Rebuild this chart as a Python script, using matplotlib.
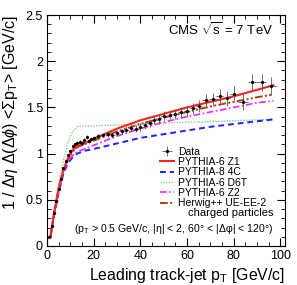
#!/usr/bin/env python3
"""
CMS underlying event: transverse charged pTsum density vs leading track-jet pT.
"""
import matplotlib
matplotlib.use("Agg")
import matplotlib.pyplot as plt
from matplotlib.ticker import FuncFormatter, MultipleLocator

plt.rcParams["font.family"] = ["Liberation Sans", "DejaVu Sans"]
plt.rcParams["mathtext.fontset"] = "custom"
plt.rcParams["mathtext.rm"] = "Liberation Sans"
plt.rcParams["mathtext.it"] = "Liberation Sans:italic"
plt.rcParams["mathtext.bf"] = "Liberation Sans:bold"

# data points
data_x = [1, 2, 3, 4, 5, 6, 7, 8, 9, 10, 11, 12, 13, 14, 15, 16, 17, 18, 19, 20,
          22, 24, 26, 28, 30, 32, 34, 36, 38, 40, 42, 44, 46, 48, 50,
          52.5, 55, 57.5, 60, 62.5, 65, 68, 71, 74, 77, 80, 84, 88, 92, 96]
data_y = [0.10, 0.22, 0.36, 0.49, 0.62, 0.73, 0.84, 0.92, 0.98, 1.03, 1.08, 1.10,
          1.12, 1.13, 1.12, 1.15, 1.18, 1.14, 1.16, 1.17,
          1.19, 1.20, 1.21, 1.20, 1.22, 1.24, 1.26, 1.28, 1.27, 1.29, 1.31, 1.33,
          1.36, 1.37, 1.41, 1.42, 1.43, 1.45, 1.46, 1.49, 1.52, 1.58, 1.59, 1.62,
          1.60, 1.65, 1.56, 1.77, 1.77, 1.73]
data_yerr = [0.01, 0.01, 0.01, 0.01, 0.01, 0.01, 0.01, 0.01, 0.01, 0.01, 0.015,
             0.015, 0.015, 0.015, 0.02, 0.02, 0.02, 0.02, 0.02, 0.02,
             0.025, 0.025, 0.03, 0.03, 0.03, 0.03, 0.035, 0.035, 0.04, 0.04, 0.04,
             0.045, 0.045, 0.05, 0.05, 0.05, 0.055, 0.055, 0.06, 0.06, 0.065, 0.07,
             0.07, 0.075, 0.08, 0.08, 0.085, 0.09, 0.09, 0.1]
data_xerr = [0.5] * 20 + [1.0] * 15 + [1.25] * 6 + [1.5] * 5 + [2.0] * 4

# model curves
mc_x = [1.5, 3, 5, 7, 9, 11, 13, 16, 20, 30, 40, 50, 60, 70, 80, 90, 97]
z1_y = [0.10, 0.35, 0.62, 0.82, 0.95, 1.04, 1.08, 1.11, 1.16, 1.27, 1.36, 1.43,
        1.50, 1.56, 1.62, 1.69, 1.74]
c4_y = [0.10, 0.33, 0.58, 0.78, 0.90, 0.96, 1.00, 1.03, 1.05, 1.11, 1.17, 1.21,
        1.25, 1.29, 1.32, 1.35, 1.37]
d6t_y = [0.10, 0.38, 0.68, 0.92, 1.12, 1.24, 1.29, 1.30, 1.30, 1.31, 1.32, 1.33,
         1.34, 1.345, 1.355, 1.365, 1.37]
z2_y = [0.10, 0.35, 0.60, 0.80, 0.92, 0.98, 1.02, 1.05, 1.09, 1.19, 1.27, 1.34,
        1.40, 1.45, 1.50, 1.55, 1.57]
hw_y = [0.10, 0.35, 0.62, 0.82, 0.94, 1.02, 1.07, 1.10, 1.14, 1.24, 1.32, 1.39,
        1.45, 1.51, 1.56, 1.61, 1.64]


def main() -> None:
    fig = plt.figure(figsize=(2.97, 2.85), dpi=100)
    ax = fig.add_axes([47 / 297, 39 / 285, 238 / 297, 231 / 285])

    h_data = ax.errorbar(data_x, data_y, yerr=data_yerr, xerr=data_xerr, fmt="o",
                         markersize=1.3, color="black", ecolor="#555555",
                         elinewidth=0.6, capsize=0, label="Data", zorder=5)
    h_z1, = ax.plot(mc_x, z1_y, color="#ff2020", lw=1.5, label="PYTHIA-6 Z1", zorder=4)
    h_4c, = ax.plot(mc_x, c4_y, color="#2020ff", lw=1.4, ls=(0, (3, 2)),
                    label="PYTHIA-8 4C", zorder=3)
    h_d6t, = ax.plot(mc_x, d6t_y, color="#80d080", lw=1.0, ls=(0, (1, 1)),
                     label="PYTHIA-6 D6T", zorder=2)
    h_z2, = ax.plot(mc_x, z2_y, color="#ff20ff", lw=1.2, ls=(0, (4, 1.5, 1, 1.5)),
                    label="PYTHIA-6 Z2", zorder=3)
    h_hw, = ax.plot(mc_x, hw_y, color="#a04418", lw=1.4,
                    ls=(0, (4, 1.2, 1, 1.2, 1, 1.2)), label="Herwig++ UE-EE-2", zorder=3)

    ax.set_xlim(0, 102)
    ax.set_ylim(0, 2.5)
    ax.xaxis.set_major_locator(MultipleLocator(20))
    ax.xaxis.set_minor_locator(MultipleLocator(5))
    ax.yaxis.set_major_locator(MultipleLocator(0.5))
    ax.yaxis.set_minor_locator(MultipleLocator(0.1))
    fmt = FuncFormatter(lambda v, _: f"{v:g}")
    ax.xaxis.set_major_formatter(fmt)
    ax.yaxis.set_major_formatter(fmt)
    ax.tick_params(which="both", direction="in", top=True, right=True, labelsize=9)
    ax.tick_params(which="major", length=6, width=0.8)
    ax.tick_params(which="minor", length=3, width=0.6)
    ax.tick_params(axis="x", pad=3)
    ax.tick_params(axis="y", pad=3)

    ax.set_xlabel(r"Leading track-jet p$_{\rm T}$ [GeV/c]", fontsize=11.4, loc="right")
    ax.xaxis.set_label_coords(1.0, -0.088)
    ax.set_ylabel(r"1 / $\Delta\eta$ $\Delta(\Delta\phi)$ <$\Sigma$p$_{\rm T}$> [GeV/c]",
                  fontsize=11.5, loc="top")
    ax.yaxis.set_label_coords(-0.115, 1.0)

    ax.text(0.95, 0.935, r"CMS $\sqrt{\rm s}$ = 7 TeV", transform=ax.transAxes,
            ha="right", va="center", fontsize=9.5)

    ax.legend([h_data, h_z1, h_4c, h_d6t, h_z2, h_hw],
              ["Data", "PYTHIA-6 Z1", "PYTHIA-8 4C", "PYTHIA-6 D6T", "PYTHIA-6 Z2",
               "Herwig++ UE-EE-2"],
              loc="upper left", bbox_to_anchor=(0.475, 0.43), frameon=False,
              fontsize=7.5, handlelength=1.3, handletextpad=0.4, labelspacing=0.03,
              borderpad=0, borderaxespad=0)
    ax.text(0.95, 0.143, "charged particles", transform=ax.transAxes,
            ha="right", va="center", fontsize=8)
    ax.text(0.95, 0.074, r"(p$_{\rm T}$ > 0.5 GeV/c, |η| < 2, 60° < |Δφ| < 120°)",
            transform=ax.transAxes, ha="right", va="center", fontsize=7.6)

    fig.savefig("out.png", dpi=100)
    plt.close(fig)


if __name__ == "__main__":
    main()
